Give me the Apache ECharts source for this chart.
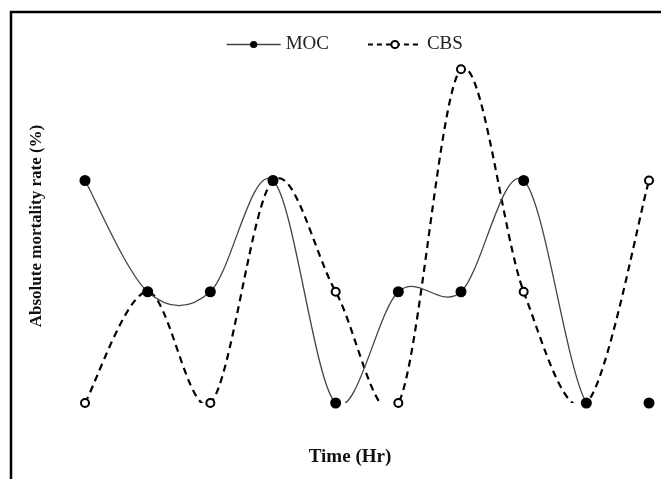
<!DOCTYPE html>
<html>
<head>
<meta charset="utf-8">
<style>
  html, body { margin: 0; padding: 0; background: #fff; }
  #chart { width: 661px; height: 479px; }
</style>
<script src="https://cdn.jsdelivr.net/npm/echarts@6/dist/echarts.min.js"></script>
</head>
<body>
<div id="chart"></div>
<script>
// hours on the x axis (no tick labels are printed in the figure)
var hours = ['1', '2', '3', '4', '5', '6', '7', '8', '9', '10'];
// mortality levels
var mocValues = [2, 1, 1, 2, 0, 1, 1, 2, 0, 0];
var cbsValues = [0, 1, 0, 2, 1, 0, 3, 1, 0, 2];

var serif = '"Liberation Serif", "Times New Roman", serif';
var mocLine = { color: '#444', width: 1.3, type: 'solid' };
var cbsLine = { color: '#000', width: 2.2, type: [7, 5] };

// spreadsheet-style smoothed line: cubic segments through the data points,
// clipped to the plot area like the original
function curveSeries(name, values, line) {
	return {
		name: name,
		type: 'custom',
		clip: true,
		silent: true,
		z: 1,
		encode: { x: 0, y: 1 },
		data: values.map(function (v, i) { return [i, v]; }),
		renderItem: function (params, api) {
			if (params.dataIndex !== 0) return;
			var pts = values.map(function (v, i) { return api.coord([i, v]); });
			var d = 'M' + pts[0][0] + ' ' + pts[0][1];
			for (var i = 0; i < pts.length - 1; i++) {
				var p0 = pts[i - 1] || pts[i];
				var p1 = pts[i];
				var p2 = pts[i + 1];
				var p3 = pts[i + 2] || pts[i + 1];
				var c1x = p1[0] + (p2[0] - p0[0]) / 6, c1y = p1[1] + (p2[1] - p0[1]) / 6;
				var c2x = p2[0] - (p3[0] - p1[0]) / 6, c2y = p2[1] - (p3[1] - p1[1]) / 6;
				d += ' C' + c1x + ' ' + c1y + ' ' + c2x + ' ' + c2y + ' ' + p2[0] + ' ' + p2[1];
			}
			return {
				type: 'path',
				shape: { pathData: d },
				style: {
					fill: 'none',
					stroke: line.color,
					lineWidth: line.width,
					lineDash: line.type === 'solid' ? null : line.type
				}
			};
		}
	};
}

var chart = echarts.init(document.getElementById('chart'));
chart.setOption({
	animation: false,
	grid: { left: 85, right: 12, top: 47, bottom: 76 },
	legend: {
		data: [
			{ name: 'MOC', lineStyle: { color: mocLine.color, width: mocLine.width, type: 'solid', opacity: 1 } },
			{ name: 'CBS', lineStyle: { color: cbsLine.color, width: 2, type: [5, 4], opacity: 1 } }
		],
		left: 221,
		top: 30,
		itemWidth: 54,
		itemHeight: 9,
		itemGap: 38,
		textStyle: { fontFamily: serif, fontSize: 19, color: '#222' }
	},
	xAxis: {
		type: 'category',
		data: hours,
		boundaryGap: false,
		show: false
	},
	yAxis: {
		type: 'value',
		min: 0,
		max: 3.2,
		show: false,
		splitLine: { show: false }
	},
	graphic: [
		{
			type: 'rect',
			shape: { x: 11, y: 12, width: 700, height: 520 },
			style: { fill: 'none', stroke: '#000', lineWidth: 2.5 },
			silent: true
		},
		{
			type: 'text',
			x: 37, y: 226,
			rotation: Math.PI / 2,
			style: {
				text: 'Absolute mortality rate (%)',
				font: 'bold 17px ' + serif,
				fill: '#111',
				align: 'center',
				verticalAlign: 'middle'
			}
		},
		{
			type: 'text',
			x: 350, y: 457,
			style: {
				text: 'Time (Hr)',
				font: 'bold 19px ' + serif,
				fill: '#111',
				align: 'center',
				verticalAlign: 'middle'
			}
		}
	],
	series: [
		curveSeries('CBS curve', cbsValues, cbsLine),
		curveSeries('MOC curve', mocValues, mocLine),
		{
			name: 'CBS',
			type: 'line',
			data: cbsValues,
			symbol: 'emptyCircle',
			symbolSize: 8,
			lineStyle: { opacity: 0, width: 0 },
			itemStyle: { color: '#000', borderColor: '#000', borderWidth: 2 },
			z: 3
		},
		{
			name: 'MOC',
			type: 'line',
			data: mocValues,
			symbol: 'circle',
			symbolSize: 11,
			lineStyle: { opacity: 0, width: 0 },
			itemStyle: { color: '#000' },
			z: 4
		}
	]
});
</script>
</body>
</html>
